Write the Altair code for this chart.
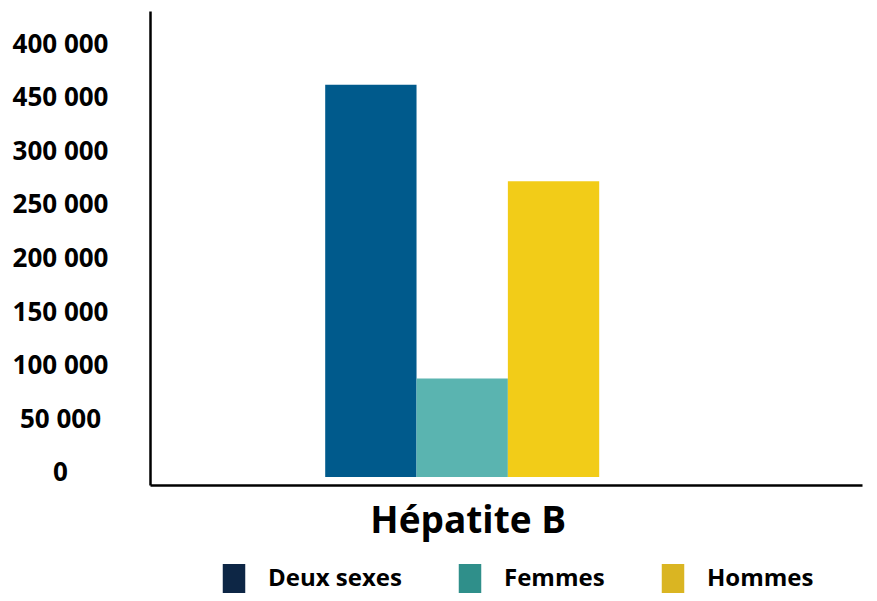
import altair as alt
import pandas as pd

# ---- data ----
categories = ["Hépatite B"]
sexes = ["Deux sexes", "Femmes", "Hommes"]
values = [366000, 92000, 276000]
bar_colors = ["#005a8c", "#5ab4b0", "#f2cc18"]
legend_colors = ["#0d2645", "#2f8f8a", "#dab522"]
tick_values = [0, 50000, 100000, 150000, 200000, 250000, 300000, 350000, 400000]
tick_labels = ["0", "50 000", "100 000", "150 000", "200 000", "250 000",
               "300 000", "450 000", "400 000"]

df = pd.DataFrame({
    "maladie": [categories[0]] * len(sexes),
    "sexe": sexes,
    "valeur": values,
})

label_expr = "[" + ",".join("'" + t + "'" for t in tick_labels) + "][round(datum.value / 50000)]"

FONT = "Open Sans"

x_enc = alt.X(
    "maladie:N",
    scale=alt.Scale(domain=categories, paddingInner=0, paddingOuter=0.7993, align=0.40),
    axis=alt.Axis(
        title=None, labelAngle=0, labelFont=FONT, labelFontSize=37,
        labelFontWeight="bold", labelColor="black", labelPadding=18,
        labelOffset=6, labelLimit=0, ticks=False, tickSize=0,
        domainColor="black", domainWidth=2.5, grid=False,
    ),
)
xoff_enc = alt.XOffset("sexe:N", scale=alt.Scale(domain=sexes, paddingInner=0, paddingOuter=0))
y_scale = alt.Scale(domain=[-7463, 434700], nice=False, zero=False)
y_enc = alt.Y(
    "valeur:Q",
    scale=y_scale,
    axis=alt.Axis(
        title=None, values=tick_values, labelExpr=label_expr,
        labelFont=FONT, labelFontSize=26, labelFontWeight="bold",
        labelColor="black", labelAlign="center", labelPadding=90,
        labelOffset=-4, ticks=False, tickSize=0, grid=False,
        domainColor="black", domainWidth=2.5,
    ),
)

bars = alt.Chart(df).mark_bar().encode(
    x=x_enc,
    xOffset=xoff_enc,
    y=y_enc,
    y2=alt.datum(0),
    color=alt.Color("sexe:N", scale=alt.Scale(domain=sexes, range=bar_colors), legend=None),
)

# zero-height bars: only carry the legend, whose swatches are darker than the bars
legend_layer = alt.Chart(df).mark_bar().encode(
    x=x_enc,
    xOffset=xoff_enc,
    y=alt.datum(0),
    y2=alt.datum(0),
    color=alt.Color(
        "sexe:N",
        scale=alt.Scale(domain=sexes, range=legend_colors),
        legend=alt.Legend(
            title=None, orient="none", legendX=69, legendY=553,
            direction="horizontal",
            symbolType="M-0.75,-1H0.75V1H-0.75Z", symbolSize=900,
            symbolStrokeWidth=0, symbolOpacity=1,
            labelFont=FONT, labelFontSize=24, labelFontWeight="bold",
            labelColor="black", labelOffset=19, labelBaseline="middle",
            columnPadding=53, padding=0,
        ),
    ),
)

chart = alt.layer(bars, legend_layer).resolve_scale(color="independent").properties(
    width=712,
    height=474,
    autosize=alt.AutoSizeParams(type="none"),
    padding={"left": 142, "top": 3, "right": 7, "bottom": 108},
    background="white",
).configure_view(stroke=None)

chart.save("out.html", embed_options={"renderer": "svg", "actions": False})
